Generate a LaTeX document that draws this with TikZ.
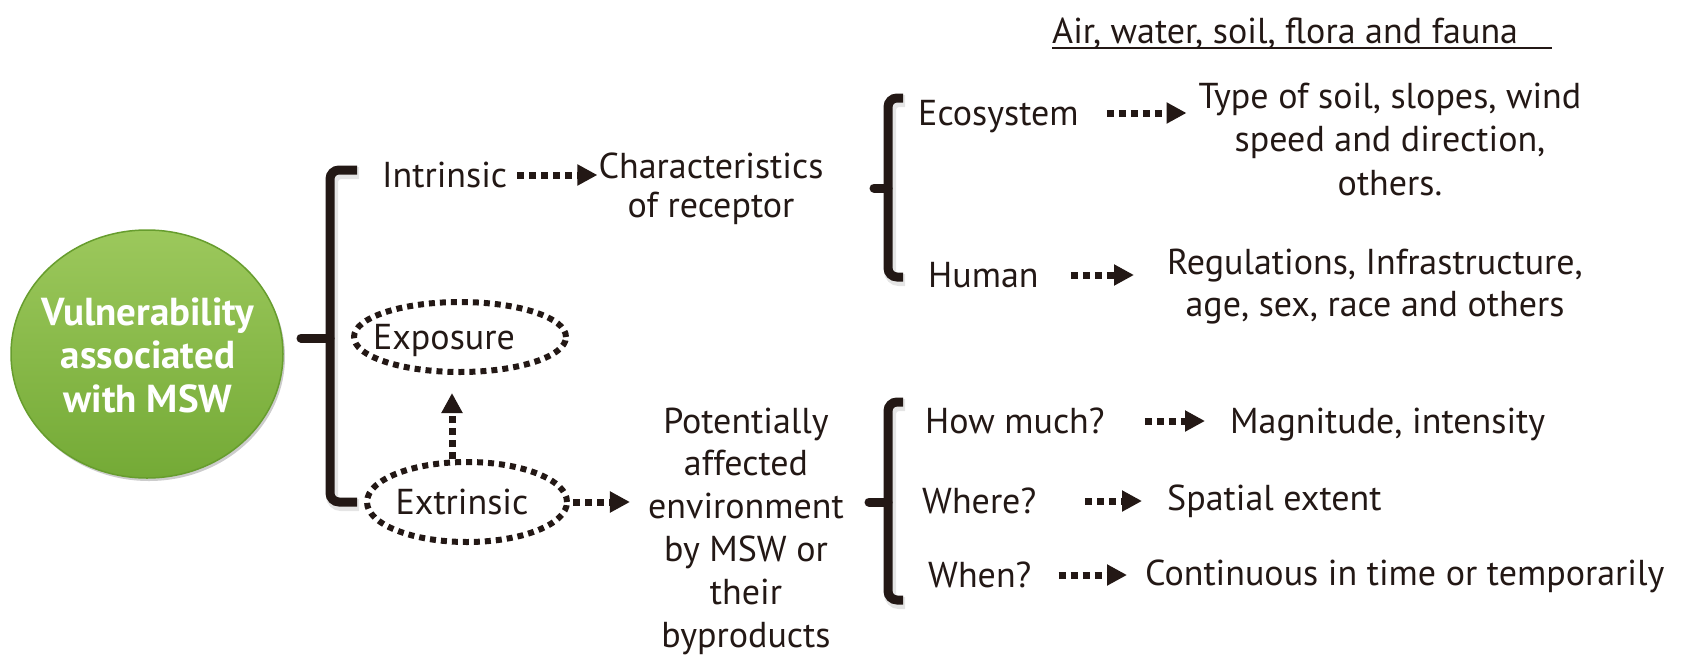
\documentclass[tikz,border=0pt]{standalone}
\usepackage{fontspec}
\setmainfont{PT Sans}
\usetikzlibrary{arrows.meta,shapes.geometric,shadows}
\definecolor{ink}{HTML}{231815}
\definecolor{gtop}{HTML}{9CC85C}
\definecolor{gbot}{HTML}{74AA36}
\definecolor{gedge}{HTML}{679D2E}
\newcommand{\mlines}[1]{\begin{tabular}[t]{@{}c@{}}#1\end{tabular}}
\begin{document}
\begin{tikzpicture}[x=1pt,y=-1pt,
  every node/.style={text=ink, font=\fontsize{36}{43.5}\selectfont, inner sep=0pt},
  lbl/.style={anchor=base west, text height=24pt, text depth=0pt},
  multi/.style={anchor=base},
  arr/.style={draw=ink, line width=7pt, dash pattern=on 7pt off 5pt, -{Triangle[length=20pt,width=20pt]}},
  ell/.style={ellipse, draw=ink, line width=6pt, dash pattern=on 6pt off 5pt, text height=24pt, text depth=0pt},
  brk/.style={draw=ink, line width=9pt, rounded corners=9pt},
  brkshadow/.style={draw=black, opacity=0.10, line width=12pt, rounded corners=9pt},
  nub/.style={draw=ink, line width=9pt, line cap=round}
]
\fill[white] (0,0) rectangle (1686,662);
\useasboundingbox (0,0) rectangle (1686,662);

% central circle
\node[ellipse, minimum width=272pt, minimum height=248pt, top color=gtop, bottom color=gbot,
      draw=gedge, line width=1.5pt,
      drop shadow={shadow xshift=2pt, shadow yshift=-3pt, opacity=0.2, fill=black}] (vul) at (147,354) {};
\node[multi, text=white, font=\bfseries\fontsize{39}{43.5}\selectfont] (vult) at (148,325)
  {\mlines{Vulnerability\\associated\\with MSW}};

% big bracket
\draw[brkshadow] (359,173) -- (332,173) -- (332,505) -- (359,505);
\draw[brk] (357,170) -- (330,170) -- (330,502) -- (357,502);
\draw[nub] (330,338) -- (301,338);

% upper right bracket
\draw[brkshadow] (905,101) -- (890,101) -- (890,280) -- (905,280);
\draw[brk] (903,98) -- (888,98) -- (888,277) -- (903,277);
\draw[nub] (888,188) -- (874,188);

% lower bracket
\draw[brkshadow] (905,405) -- (890,405) -- (890,603) -- (905,603);
\draw[brk] (903,402) -- (888,402) -- (888,600) -- (903,600);
\draw[nub] (888,502) -- (869,502);

% nodes
\node[lbl] (intr) at (382,187) {Intrinsic};
\node[multi, font=\fontsize{36}{39}\selectfont] (char) at (711,178) {\mlines{Characteristics\\of receptor}};
\node[ell, minimum width=212pt, minimum height=70pt] (exp) at (460,337) {\makebox[0pt]{\hspace*{-32pt}Exposure}};
\node[ell, minimum width=200pt, minimum height=80pt] (ext) at (467,502) {\makebox[0pt]{\hspace*{-10pt}Extrinsic}};
\node[multi, font=\fontsize{36}{42.8}\selectfont] (pot) at (746,433)
  {\mlines{Potentially\\affected\\environment\\by MSW or\\their\\byproducts}};

\node[lbl] (air) at (1052,43) {Air, water, soil, flora and fauna};
\coordinate (ulend) at (1552,48);
\draw[ink, line width=2.5pt] ([yshift=-5pt]air.base west) -- (ulend);

\node[lbl] (eco) at (918,125) {Ecosystem};
\node[multi] (type) at (1390,108) {\mlines{Type of soil, slopes, wind\\speed and direction,\\others.}};
\node[lbl] (hum) at (928,287) {Human};
\node[multi, font=\fontsize{36}{42}\selectfont] (reg) at (1375,274) {\mlines{Regulations, Infrastructure,\\age, sex, race and others}};

\node[lbl] (how) at (925,433) {How much?};
\node[lbl] (where) at (922,513) {Where?};
\node[lbl] (when) at (928,587) {When?};
\node[lbl] (mag) at (1230,433) {Magnitude, intensity};
\node[lbl] (spa) at (1167,510) {Spatial extent};
\node[lbl] (con) at (1145,585) {Continuous in time or temporarily};

% connectors
\draw[arr] ([xshift=10pt]intr.east) -- ([xshift=-1pt]intr.east -| char.west);
\draw[arr] ([xshift=28pt]eco.east) -- ([xshift=-12pt]eco.east -| type.west);
\draw[arr] ([xshift=32pt]hum.east) -- ([xshift=-33pt]hum.east -| reg.west);
\draw[arr] ([xshift=40pt]how.east) -- ([xshift=-25pt]how.east -| mag.west);
\draw[arr] ([xshift=49pt]where.east) -- ([xshift=-25pt]where.east -| spa.west);
\draw[arr] ([xshift=27pt]when.east) -- ([xshift=-18pt]when.east -| con.west);
\draw[arr] ([xshift=3pt]ext.east) -- ([xshift=-18pt]ext.east -| pot.west);
\draw[arr, shorten >=18pt] ([xshift=-15pt]ext.north) -- ([xshift=-15pt]ext.north |- exp.south);
\end{tikzpicture}
\end{document}
